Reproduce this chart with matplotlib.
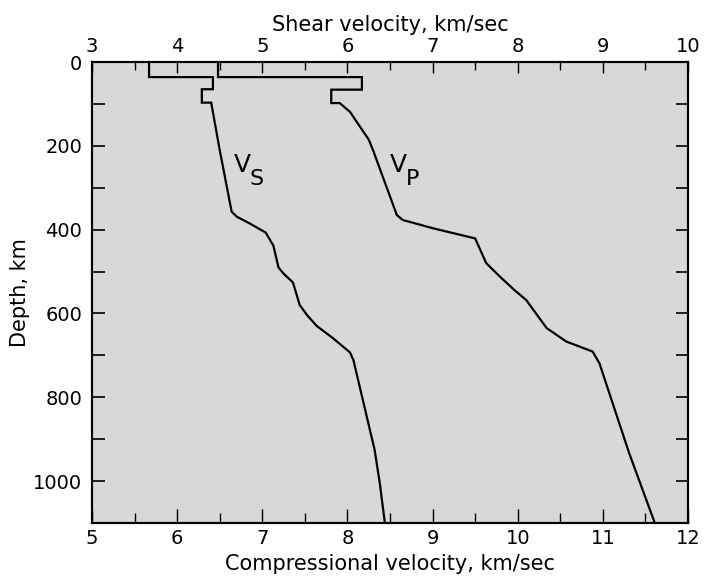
import matplotlib
matplotlib.use("Agg")
import matplotlib.pyplot as plt
from matplotlib.ticker import MultipleLocator
from matplotlib.transforms import offset_copy

plt.rcParams['font.family'] = ['DejaVu Sans']

# Shear velocity profile (top axis, km/sec) vs depth (km)
vs_vel = [3.67, 3.67, 4.42, 4.42, 4.29, 4.29, 4.40, 4.50, 4.64, 4.70, 4.85,
          5.04, 5.13, 5.19, 5.25, 5.36, 5.44, 5.53, 5.64, 5.83, 6.03, 6.07,
          6.22, 6.32, 6.38, 6.44]
vs_depth = [0, 36, 36, 65, 65, 97, 97, 210, 357, 369, 385,
            407, 438, 490, 505, 526, 580, 605, 630, 659, 693, 711,
            840, 926, 1005, 1100]

# Compressional velocity profile (bottom axis, km/sec) vs depth (km)
vp_vel = [6.48, 6.48, 8.17, 8.17, 7.81, 7.81, 7.91, 8.03, 8.25, 8.30, 8.58,
          8.65, 9.01, 9.50, 9.63, 9.79, 9.96, 10.10, 10.34, 10.57, 10.88,
          10.96, 11.31, 11.61]
vp_depth = [0, 36, 36, 66, 66, 98, 98, 119, 185, 210, 365,
            377, 397, 421, 480, 512, 544, 568, 635, 667, 691,
            719, 934, 1100]

fig = plt.figure(figsize=(7.12, 5.8), dpi=100)
ax = fig.add_axes([0.1292, 0.0983, 0.8371, 0.7948])
ax.set_facecolor('#d8d8d8')

ax.plot(vp_vel, vp_depth, color='black', lw=1.6, solid_joinstyle='miter')
ax.set_xlim(5, 12)
ax.set_ylim(1100, 0)

ax2 = ax.twiny()
ax2.plot(vs_vel, vs_depth, color='black', lw=1.6, solid_joinstyle='miter')
ax2.set_xlim(3, 10)

for a in (ax, ax2):
    for s in a.spines.values():
        s.set_linewidth(1.5)

ax.xaxis.set_major_locator(MultipleLocator(1))
ax.xaxis.set_minor_locator(MultipleLocator(0.5))
ax.yaxis.set_major_locator(MultipleLocator(200))
ax.yaxis.set_minor_locator(MultipleLocator(100))
ax.tick_params(axis='x', which='major', direction='in', length=10, width=1, labelsize=14, pad=4)
ax.tick_params(axis='x', which='minor', direction='in', length=7, width=1)
ax.tick_params(axis='y', which='both', direction='in', length=9, width=1.2,
               right=True, labelsize=14, pad=7)

ax2.xaxis.set_major_locator(MultipleLocator(1))
ax2.xaxis.set_minor_locator(MultipleLocator(0.5))
ax2.tick_params(axis='x', which='major', direction='in', length=8, width=1, labelsize=14, pad=4)
ax2.tick_params(axis='x', which='minor', direction='in', length=6, width=1)

ax.set_xlabel('Compressional velocity, km/sec', fontsize=15, labelpad=5)
ax.set_ylabel('Depth, km', fontsize=15, labelpad=2)
ax2.set_xlabel('Shear velocity, km/sec', fontsize=15, labelpad=5)

# curve labels
for xv, sub in [(6.66, 'S'), (8.50, 'P')]:
    ax.text(xv, 262, 'V', fontsize=18, ha='left', va='baseline')
    tr = offset_copy(ax.transData, fig=fig, x=16, y=-13, units='dots')
    ax.text(xv, 262, sub, fontsize=16, ha='left', va='baseline', transform=tr)

fig.savefig('out.png', dpi=100)
